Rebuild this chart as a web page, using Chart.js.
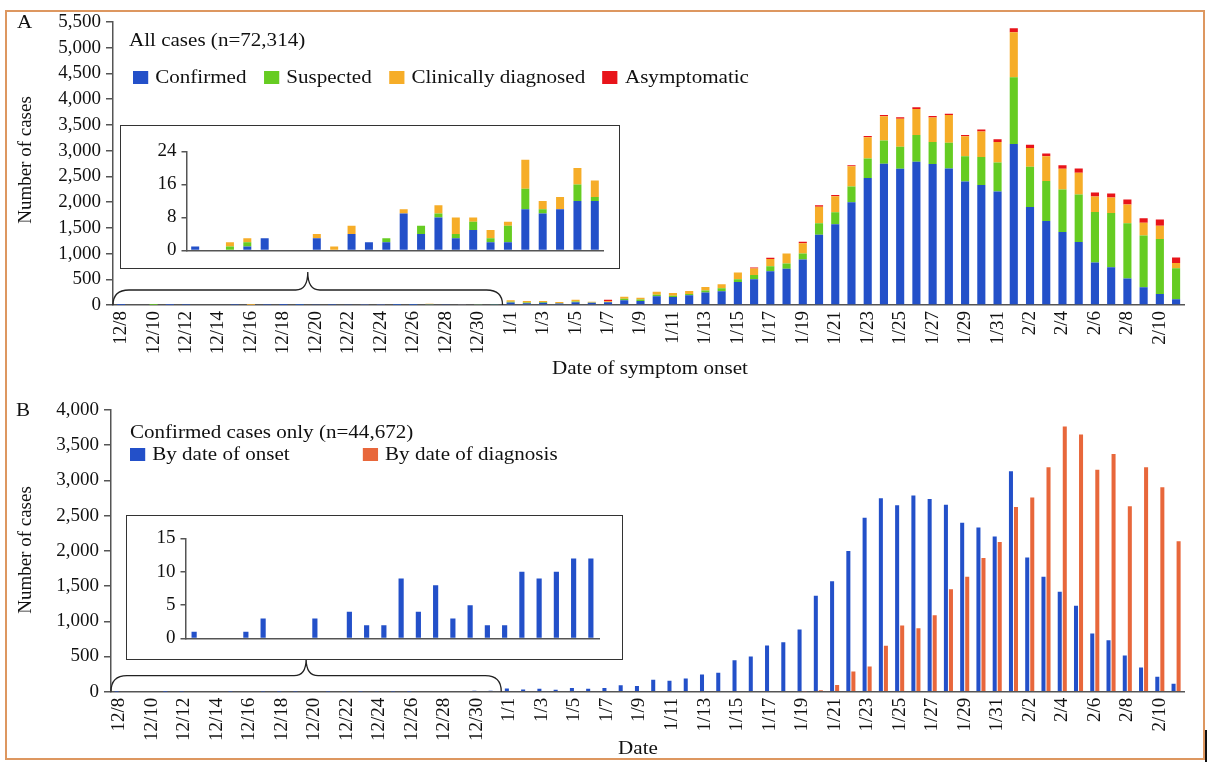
<!DOCTYPE html>
<html>
<head>
<meta charset="utf-8">
<title>Epidemic curves</title>
<script src="https://cdn.jsdelivr.net/npm/chart.js@4.4.1/dist/chart.umd.min.js"></script>
<style>
  html, body { margin: 0; padding: 0; background: #fff; }
  body { position: relative; width: 1218px; height: 770px; overflow: hidden;
         font-family: "Liberation Serif", "Times New Roman", serif; color: #111; }
  .frame { position: absolute; left: 5px; top: 10px; width: 1196px; height: 746px; border: 2px solid #dd9760; }
  .mark { position: absolute; left: 1205px; top: 730px; width: 2px; height: 32px; background: #111; }
  .plot { position: absolute; }
  .inset { position: absolute; background: #fff; border: 1.5px solid #333; box-sizing: border-box; }
  .inset > div { position: absolute; left: 0; top: 0; right: 0; bottom: 0; }
  .txt { position: absolute; font-size: 18px; line-height: 20px; white-space: nowrap;
         transform-origin: left center; transform: scaleX(1.17); }
  .center { transform-origin: center center; transform: translateX(-50%) scaleX(1.17); }
  .ytitle { position: absolute; font-size: 19px; line-height: 20px; white-space: nowrap;
            transform: translate(-50%, -50%) rotate(-90deg); }
  .legend { display: flex; align-items: center; }
  .legend span.sw { display: inline-block; width: 13px; height: 13px; margin-right: 6px; }
  .legend .item { display: flex; align-items: center; margin-right: 15px; }
  #legendB .item { margin-right: 0; }
</style>
</head>
<body>
<div class="frame"></div>
<div class="mark"></div>

<div class="plot" style="left:0; top:0; width:1205px; height:385px;"><canvas id="chartA"></canvas></div>
<div class="inset" style="left:120px; top:125px; width:500px; height:144px;"><div><canvas id="insetA"></canvas></div></div>

<div class="plot" style="left:0; top:390px; width:1205px; height:370px;"><canvas id="chartB"></canvas></div>
<div class="inset" style="left:126px; top:515px; width:497px; height:145px;"><div><canvas id="insetB"></canvas></div></div>

<div class="txt" style="left:17px; top:12px;">A</div>
<div class="txt" style="left:129px; top:30px;">All cases (n=72,314)</div>
<div class="txt legend" id="legendA" style="left:133px; top:67px;"></div>
<div class="ytitle" style="left:25px; top:160px;">Number of cases</div>
<div class="txt center" style="left:650px; top:358px;">Date of symptom onset</div>

<div class="txt" style="left:16px; top:400px;">B</div>
<div class="txt" style="left:130px; top:422px;">Confirmed cases only (n=44,672)</div>
<div class="txt legend" id="legendB" style="left:130px; top:444px;"></div>
<div class="ytitle" style="left:25px; top:550px;">Number of cases</div>
<div class="txt center" style="left:638px; top:738px;">Date</div>

<script>
// days from 12/8 to 2/11
var dates = ['12/8','12/9','12/10','12/11','12/12','12/13','12/14','12/15','12/16','12/17','12/18','12/19',
  '12/20','12/21','12/22','12/23','12/24','12/25','12/26','12/27','12/28','12/29','12/30','12/31',
  '1/1','1/2','1/3','1/4','1/5','1/6','1/7','1/8','1/9','1/10','1/11','1/12','1/13','1/14','1/15','1/16',
  '1/17','1/18','1/19','1/20','1/21','1/22','1/23','1/24','1/25','1/26','1/27','1/28','1/29','1/30','1/31',
  '2/1','2/2','2/3','2/4','2/5','2/6','2/7','2/8','2/9','2/10','2/11'];

// panel A, by onset date
var confirmed = [1,0,0,1,3,0,0,3,0,4,2,2,9,4,8,3,5,2,2,10,9,10,12,12,
  47,33,42,28,52,42,52,90,80,170,156,189,245,269,448,500,656,703,883,1364,1567,1997,2469,2747,2648,2785,2738,2653,2398,2332,2204,
  3129,1907,1633,1421,1222,826,732,514,345,212,113];
var suspected = [0,0,1,1,0,0,0,0,0,0,0,1,0,2,1,1,2,1,4,5,1,0,4,1,
  15,15,15,5,15,8,5,30,25,30,25,25,35,55,52,84,97,104,117,227,234,305,376,448,428,519,428,499,493,545,564,
  1297,778,778,824,927,979,1057,1077,1005,1070,603];
var clinical = [0,0,1,1,0,0,0,1,1,2,0,0,1,0,2,4,1,2,1,7,2,3,4,4,
  30,30,21,25,37,15,15,42,38,59,52,58,70,78,130,123,143,195,201,318,311,396,416,473,545,506,480,539,389,493,402,
  875,364,480,402,422,305,299,363,247,259,98];
var asymptomatic = [0,0,0,0,0,0,0,0,0,0,0,0,0,0,0,0,0,0,0,0,0,0,0,0,
  0,0,0,0,0,0,30,0,0,0,0,0,0,0,0,20,20,0,26,32,26,19,25,26,26,32,26,25,26,39,52,
  78,64,52,71,84,77,78,97,91,123,110];

// panel B, confirmed cases by date of diagnosis
var diagnosis = [0,0,0,0,0,0,0,0,0,0,0,0,0,0,0,0,0,0,0,0,0,0,0,0,
  0,0,0,0,0,0,0,0,0,0,0,0,0,0,0,0,0,0,8,19,94,288,359,651,939,901,1086,1454,1633,1897,2124,
  2624,2756,3186,3767,3653,3153,3375,2634,3186,2903,2138];

var insetDays = 24; // December part shown in the insets
var ticksA = { max: 5500, step: 500 };
var ticksB = { max: 4000, step: 500 };
var ticksInsetA = { max: 24, step: 8 };
var ticksInsetB = { max: 15, step: 5 };

var BLUE = '#2350c9', GREEN = '#66cc22', YELLOW = '#f6ad28', RED = '#e8141a', ORANGE = '#e8673b';
var AXIS = '#555';
var FONT = '"Liberation Serif", "Times New Roman", serif';

Chart.defaults.font.family = FONT;
Chart.defaults.color = '#111';

// curly brace under the december bars, pointing to the inset
var brace = {
  id: 'brace',
  afterDraw: function (chart, args, opts) {
    var x = chart.scales.x, y = chart.scales.y, ctx = chart.ctx;
    var half = (x.getPixelForValue(1) - x.getPixelForValue(0)) / 2;
    var left = x.getPixelForValue(0) - half;
    var right = x.getPixelForValue(opts.last) + half;
    var base = y.getPixelForValue(0);
    var top = base - opts.depth;
    var mid = (left + right) / 2;
    var peak = top - opts.rise;
    ctx.save();
    ctx.strokeStyle = '#222';
    ctx.lineWidth = 1.3;
    ctx.beginPath();
    ctx.moveTo(left, base);
    ctx.quadraticCurveTo(left, top, left + 16, top);
    ctx.lineTo(mid - 12, top);
    ctx.quadraticCurveTo(mid, top, mid, peak);
    ctx.quadraticCurveTo(mid, top, mid + 12, top);
    ctx.lineTo(right - 16, top);
    ctx.quadraticCurveTo(right, top, right, base);
    ctx.stroke();
    ctx.restore();
  }
};

function fmt(v) { return Number(v).toLocaleString('en-US'); }

function dateAxis(height) {
  return {
    grid: { display: false, drawTicks: false },
    border: { color: AXIS, width: 1.5 },
    ticks: {
      autoSkip: false, maxRotation: 90, minRotation: 90, padding: 6,
      font: { size: 19 },
      callback: function (value, index) { return index % 2 === 0 ? this.getLabelForValue(value) : ''; }
    },
    afterFit: function (s) { s.height = height; }
  };
}

function countAxis(t, width, size, tickLen) {
  return {
    min: 0, max: t.max,
    grid: { drawOnChartArea: false, tickLength: tickLen, color: AXIS, lineWidth: 1.5 },
    border: { color: AXIS, width: 1.5 },
    ticks: { stepSize: t.step, autoSkip: false, padding: 5, font: { size: size }, callback: fmt },
    afterFit: function (s) { s.width = width; }
  };
}

function baseOptions(padding) {
  return {
    responsive: true, maintainAspectRatio: false, animation: false,
    layout: { padding: padding },
    plugins: { legend: { display: false }, tooltip: { enabled: false } }
  };
}

function buildLegend(chart, el, itemWidth) {
  chart.data.datasets.forEach(function (ds) {
    var item = document.createElement('div');
    item.className = 'item';
    if (itemWidth) item.style.width = itemWidth + 'px';
    var sw = document.createElement('span');
    sw.className = 'sw';
    sw.style.background = ds.backgroundColor;
    item.appendChild(sw);
    item.appendChild(document.createTextNode(ds.label));
    el.appendChild(item);
  });
}

// ---- panel A ----
var optsA = baseOptions({ top: 22, right: 15 });
optsA.datasets = { bar: { barPercentage: 0.5, categoryPercentage: 1 } };
optsA.scales = { x: dateAxis(80), y: countAxis(ticksA, 113, 19, 7) };
optsA.scales.x.stacked = true;
optsA.scales.y.stacked = true;
optsA.plugins.brace = { last: insetDays - 1, depth: 15, rise: 18 };

var chartA = new Chart(document.getElementById('chartA'), {
  type: 'bar',
  data: {
    labels: dates,
    datasets: [
      { label: 'Confirmed', data: confirmed, backgroundColor: BLUE },
      { label: 'Suspected', data: suspected, backgroundColor: GREEN },
      { label: 'Clinically diagnosed', data: clinical, backgroundColor: YELLOW },
      { label: 'Asymptomatic', data: asymptomatic, backgroundColor: RED }
    ]
  },
  options: optsA,
  plugins: [brace]
});
buildLegend(chartA, document.getElementById('legendA'));

var optsIA = baseOptions({ top: 25.5, right: 15.5 });
optsIA.datasets = { bar: { barPercentage: 0.46, categoryPercentage: 1 } };
optsIA.scales = {
  x: { stacked: true, grid: { display: false }, border: { color: AXIS, width: 1.5 }, ticks: { display: false },
       afterFit: function (s) { s.height = 17.5; } },
  y: countAxis(ticksInsetA, 65.5, 19, 5)
};
optsIA.scales.y.stacked = true;

new Chart(document.getElementById('insetA'), {
  type: 'bar',
  data: {
    labels: dates.slice(0, insetDays),
    datasets: [
      { label: 'Confirmed', data: confirmed.slice(0, insetDays), backgroundColor: BLUE },
      { label: 'Suspected', data: suspected.slice(0, insetDays), backgroundColor: GREEN },
      { label: 'Clinically diagnosed', data: clinical.slice(0, insetDays), backgroundColor: YELLOW },
      { label: 'Asymptomatic', data: asymptomatic.slice(0, insetDays), backgroundColor: RED }
    ]
  },
  options: optsIA
});

// ---- panel B ----
var optsB = baseOptions({ top: 20, right: 15 });
optsB.datasets = { bar: { barPercentage: 0.8, categoryPercentage: 0.62 } };
optsB.scales = { x: dateAxis(68.3), y: countAxis(ticksB, 111, 19, 7) };
optsB.plugins.brace = { last: insetDays - 1, depth: 16, rise: 17 };

var chartB = new Chart(document.getElementById('chartB'), {
  type: 'bar',
  data: {
    labels: dates,
    datasets: [
      { label: 'By date of onset', data: confirmed, backgroundColor: BLUE },
      { label: 'By date of diagnosis', data: diagnosis, backgroundColor: ORANGE }
    ]
  },
  options: optsB,
  plugins: [brace]
});
buildLegend(chartB, document.getElementById('legendB'), 199);

var optsIB = baseOptions({ top: 22.5, right: 22.5 });
optsIB.datasets = { bar: { barPercentage: 0.3, categoryPercentage: 1 } };
optsIB.scales = {
  x: { grid: { display: false }, border: { color: AXIS, width: 1.5 }, ticks: { display: false },
       afterFit: function (s) { s.height = 20.5; } },
  y: countAxis(ticksInsetB, 58.5, 19, 5)
};

new Chart(document.getElementById('insetB'), {
  type: 'bar',
  data: {
    labels: dates.slice(0, insetDays),
    datasets: [
      { label: 'By date of onset', data: confirmed.slice(0, insetDays), backgroundColor: BLUE }
    ]
  },
  options: optsIB
});
</script>
</body>
</html>
